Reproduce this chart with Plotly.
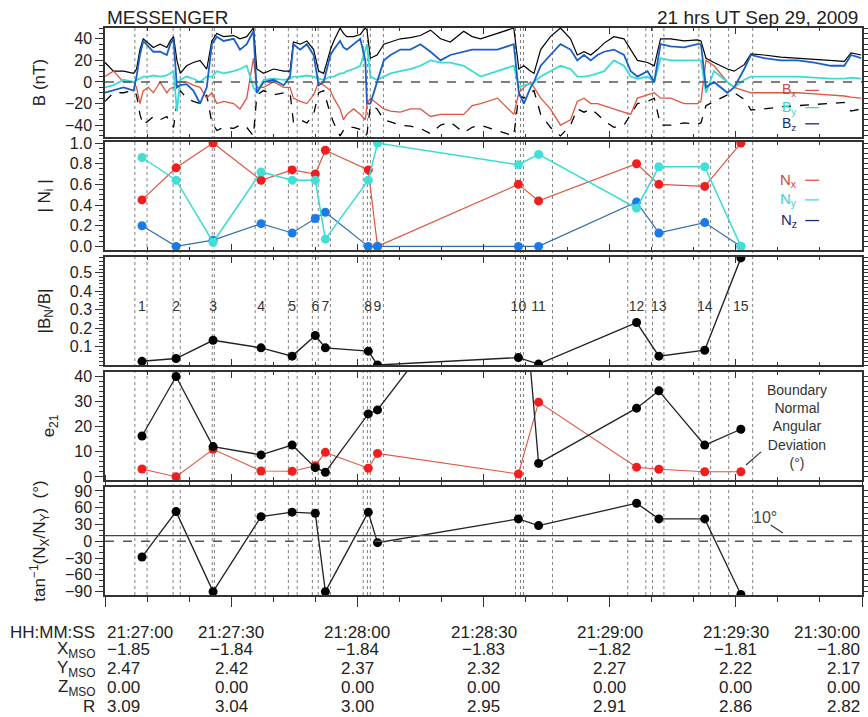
import plotly.graph_objects as go

# ---------------- data ----------------
# magnetic field time series (seconds after 21:27:00 UT), nT
t_b = [0.0, 2.0, 4.4, 6.8, 7.5, 8.3, 9.1, 10.3, 11.5, 13.1, 14.7, 15.5, 16.3, 17.1, 17.9, 19.4, 21.0,
       22.6, 24.2, 25.4, 26.6, 28.2, 30.6, 32.1, 33.7, 35.3, 36.1, 37.7, 40.1, 42.5, 44.0, 44.8, 46.4,
       48.0, 49.6, 50.8, 52.0, 53.6, 54.4, 55.9, 56.7, 57.5, 59.1, 60.7, 61.9, 62.3, 63.1, 64.7, 66.3,
       67.9, 70.2, 72.6, 75.0, 77.4, 79.8, 82.1, 85.3, 87.3, 89.3, 93.3, 97.2, 98.4, 99.6, 101.2, 102.0,
       103.6, 105.9, 108.3, 110.7, 112.3, 113.9, 115.5, 117.1, 118.7, 121.0, 123.4, 125.0, 126.6, 129.0,
       130.6, 132.1, 134.5, 137.7, 140.9, 141.7, 142.9, 144.8, 146.4, 148.0, 149.6, 152.0, 153.6, 156.7,
       160.7, 164.7, 168.7, 172.6, 175.8, 177.4, 179.8]
bx = [5, 10, 0, 0, -5, -20, -8, -5, -10, 0, -10, -6, -5, 0, 0, 0, -3,
      -5, -15, -10, -20, -18, -20, -25, -15, 22, -5, -5, 0, -5, -5, -15, -18,
      -20, -12, 0, -3, -8, -15, -25, -35, -30, -25, -30, -35, -20, -15, -20, -25,
      -27, -28, -25, -25, -32, -30, -30, -30, -22, -20, -15, -30, -10, -5, 0, -5,
      -15, -25, -40, -35, -18, -15, -20, -20, -22, -25, -28, -30, -15, -12,
      -10, -15, -15, -20, -20, -18, 20, 15, 8, 0, -5, -8, -10, -10,
      -10, -10, -11, -12, -13, -14, -15]
by = [-5, -3, 2, 0, 2, 3, 5, 5, 6, 5, 6, 8, 10, -27, 2, 5, 3,
      0, 5, 5, 10, 8, 10, 12, 15, -5, -10, 2, 3, 2, 3, 5, 5,
      6, 5, 3, 2, 5, 5, 8, 8, 10, 12, 15, 30, 35, 5, 2, 5,
      8, 10, 12, 15, 20, 18, 18, 15, 10, 5, 10, 15, -5, -3, -2, 0,
      5, 10, 15, 12, 5, 5, 6, 8, 10, 20, 15, 5, 3, 5,
      0, 22, 20, 20, 20, 20, -10, 10, 5, 0, -5, 2, 5, 5,
      5, 5, 4, 3, 3, 4, 3]
bz = [-10, -8, -5, -8, 5, 25, 38, 33, 28, 28, 25, 35, 40, -5, -3, -2, -8,
      -20, -5, 35, 42, 38, 40, 30, 35, 47, -10, 0, 2, -3, 5, 35, 30,
      35, 25, -3, 0, 25, 30, 38, 32, 30, 35, 40, 20, -20, -20, 0, 20,
      25, 30, 30, 35, 28, 20, 25, 28, 30, 30, 30, 35, -10, -20, -5, 0,
      15, 25, 35, 30, 20, 25, 20, 25, 28, 30, 25, 10, 5, 10,
      0, 35, 33, 32, 35, 35, -5, 0, -5, -10, -5, 12, 25, 22,
      20, 20, 18, 15, 15, 25, 22]
bt = [18, 10, 10, 8, 12, 30, 40, 36, 32, 35, 32, 38, 42, 20, 8, 15, 18,
      20, 12, 38, 45, 42, 43, 40, 42, 50, 12, 8, 12, 10, 10, 37, 35,
      38, 30, 10, 8, 30, 38, 50, 45, 42, 42, 44, 50, 48, 22, 25, 35,
      37, 40, 41, 43, 48, 40, 37, 47, 42, 40, 45, 50, 12, 15, 10, 8,
      30, 42, 50, 40, 25, 28, 25, 30, 36, 42, 40, 30, 20, 18,
      15, 40, 40, 38, 39, 38, 22, 18, 15, 12, 10, 16, 26, 25,
      23, 22, 21, 20, 19, 27, 25]

# boundary crossings
event_t = [8.8, 16.9, 25.7, 37.1, 44.5, 50.0, 52.4, 62.6, 64.8, 98.3, 103.1, 126.4, 131.7, 142.6, 151.2]
event_lbl = ["1", "2", "3", "4", "5", "6", "7", "8", "9", "10", "11", "12", "13", "14", "15"]
nx_abs = [0.45, 0.76, 1.0, 0.64, 0.74, 0.70, 0.93, 0.74, 0.0, 0.60, 0.44, 0.80, 0.60, 0.58, 1.0]
ny_abs = [0.86, 0.64, 0.04, 0.72, 0.64, 0.64, 0.07, 0.64, 1.0, 0.79, 0.89, 0.37, 0.77, 0.77, 0.0]
nz_abs = [0.20, 0.0, 0.06, 0.22, 0.13, 0.27, 0.33, 0.0, 0.0, 0.0, 0.0, 0.43, 0.13, 0.23, 0.0]
bn_ratio = [0.02, 0.035, 0.134, 0.093, 0.048, 0.16, 0.093, 0.075, 0.0, 0.04, 0.005, 0.23, 0.048, 0.08, 0.58]
e21 = [16.3, 40.0, 12.1, 8.8, 12.7, 3.7, 1.9, 25.1, 26.7, 100.0, 5.4, 27.4, 34.3, 12.7, 19.0]
ang_dev = [3.2, 0.1, 11.0, 2.4, 2.3, 4.5, 9.8, 3.5, 9.4, 1.2, 29.8, 3.9, 3.1, 2.1, 2.1]
tan_angle = [-28, 53, -90, 44, 52, 50, -90, 52, -2.5, 40, 28, 68, 40, 40, -95]

bounds = [7.1, 10.0, 16.2, 17.9, 25.5, 26.0, 35.7, 38.1, 43.6, 45.7, 49.3, 50.7, 53.6, 61.4, 62.4,
          63.1, 66.2, 97.6, 98.8, 99.5, 106.4, 124.3, 128.6, 130.2, 132.9, 141.2, 144.0, 148.3, 154.0]

# bottom table
tick_s = [0, 30, 60, 90, 120, 150, 180]
hhmmss = ["21:27:00", "21:27:30", "21:28:00", "21:28:30", "21:29:00", "21:29:30", "21:30:00"]
x_mso = ["−1.85", "−1.84", "−1.84", "−1.83", "−1.82", "−1.81", "−1.80"]
y_mso = ["2.47", "2.42", "2.37", "2.32", "2.27", "2.22", "2.17"]
z_mso = ["0.00", "0.00", "0.00", "0.00", "0.00", "0.00", "0.00"]
r_mso = ["3.09", "3.04", "3.00", "2.95", "2.91", "2.86", "2.82"]

# ---------------- styling ----------------
FONT = "Liberation Sans, Arial, sans-serif"
RED_L = "#e0553f"
RED_M = "#f01e1e"
CYAN_L = "#38dcd4"
CYAN_M = "#40e0d8"
BLUE_L = "#1a5fc8"
NZ_L = "#2f6fa8"
NZ_M = "#1c7ae8"
NAVY = "#1a2a78"
FRAME = "#333333"

fig = go.Figure()

# Panel 1: B field
fig.add_trace(go.Scatter(x=t_b, y=[-v for v in bt], mode="lines", line=dict(color="black", width=1.3, dash="dash"), xaxis="x", yaxis="y"))
fig.add_trace(go.Scatter(x=t_b, y=bt, mode="lines", line=dict(color="black", width=1.2), xaxis="x", yaxis="y"))
fig.add_trace(go.Scatter(x=t_b, y=bx, mode="lines", line=dict(color=RED_L, width=1.3), xaxis="x", yaxis="y"))
fig.add_trace(go.Scatter(x=t_b, y=by, mode="lines", line=dict(color=CYAN_L, width=1.8), xaxis="x", yaxis="y"))
fig.add_trace(go.Scatter(x=t_b, y=bz, mode="lines", line=dict(color=BLUE_L, width=1.8), xaxis="x", yaxis="y"))

# Panel 2: |Ni|
fig.add_trace(go.Scatter(x=event_t, y=nx_abs, mode="lines+markers", line=dict(color=RED_L, width=1.2),
                         marker=dict(color=RED_M, size=9), xaxis="x2", yaxis="y2"))
fig.add_trace(go.Scatter(x=event_t, y=nz_abs, mode="lines+markers", line=dict(color=NZ_L, width=1.2),
                         marker=dict(color=NZ_M, size=9), xaxis="x2", yaxis="y2"))
fig.add_trace(go.Scatter(x=event_t, y=ny_abs, mode="lines+markers", line=dict(color=CYAN_L, width=1.5),
                         marker=dict(color=CYAN_M, size=9), xaxis="x2", yaxis="y2"))

# Panel 3: |BN/B|
fig.add_trace(go.Scatter(x=event_t, y=bn_ratio, mode="lines+markers", line=dict(color="#222", width=1.4),
                         marker=dict(color="black", size=9), xaxis="x3", yaxis="y3"))
fig.add_trace(go.Scatter(x=event_t, y=[0.31] * len(event_t), mode="text", text=event_lbl,
                         textfont=dict(family=FONT, size=14, color="#333"), xaxis="x3", yaxis="y3"))

# Panel 4: e21 and angular deviation
fig.add_trace(go.Scatter(x=event_t, y=ang_dev, mode="lines+markers", line=dict(color=RED_L, width=1.1),
                         marker=dict(color=RED_M, size=9), xaxis="x4", yaxis="y4"))
fig.add_trace(go.Scatter(x=event_t, y=e21, mode="lines+markers", line=dict(color="#222", width=1.3),
                         marker=dict(color="black", size=9), xaxis="x4", yaxis="y4"))

# Panel 5: tan^-1(Nx/Ny)
fig.add_trace(go.Scatter(x=event_t, y=tan_angle, mode="lines+markers", line=dict(color="#222", width=1.3),
                         marker=dict(color="black", size=9), xaxis="x5", yaxis="y5"))

shapes = []
for b in bounds:
    shapes.append(dict(type="line", xref="x", yref="paper", x0=b, x1=b, y0=0, y1=1,
                       line=dict(color="#808080", width=1, dash="dot"), layer="below"))
# zero lines
shapes.append(dict(type="line", xref="paper", yref="y", x0=0, x1=1, y0=0, y1=0,
                   line=dict(color="#555", width=1.6, dash="dash")))
shapes.append(dict(type="line", xref="paper", yref="y5", x0=0, x1=1, y0=0, y1=0,
                   line=dict(color="#555", width=1.6, dash="dash")))
shapes.append(dict(type="line", xref="paper", yref="y5", x0=0, x1=1, y0=10, y1=10,
                   line=dict(color="#444", width=1.2)))
# legend segments
for yy, col in [(-7.8, RED_L), (-23.8, CYAN_L), (-38.8, NAVY)]:
    shapes.append(dict(type="line", xref="x", yref="y", x0=166.5, x1=169.8, y0=yy, y1=yy, line=dict(color=col, width=1.3)))
for yy, col in [(0.64, RED_L), (0.45, CYAN_L), (0.25, NAVY)]:
    shapes.append(dict(type="line", xref="x2", yref="y2", x0=166.5, x1=169.8, y0=yy, y1=yy, line=dict(color=col, width=1.3)))
# leader lines
shapes.append(dict(type="line", xref="x4", yref="y4", x0=156.0, y0=10.0, x1=152.4, y1=4.8, line=dict(color="#333", width=1.2)))
shapes.append(dict(type="line", xref="x5", yref="y5", x0=158.3, y0=29, x1=161.2, y1=15, line=dict(color="#333", width=1.2)))

ann = []
ann.append(dict(text="MESSENGER", xref="paper", yref="paper", x=0, y=1.018, xanchor="left", yanchor="middle",
                showarrow=False, font=dict(family=FONT, size=19, color="#222")))
ann.append(dict(text="21 hrs UT Sep 29, 2009", xref="paper", yref="paper", x=0.997, y=1.018, xanchor="right",
                yanchor="middle", showarrow=False, font=dict(family=FONT, size=19, color="#222")))
for txt, yy, col in [("B<sub>x</sub>", -7.8, "#c84a40"), ("B<sub>y</sub>", -23.8, "#40d0d0"), ("B<sub>z</sub>", -38.8, NAVY)]:
    ann.append(dict(text=txt, xref="x", yref="y", x=162.6, y=yy, showarrow=False,
                    font=dict(family=FONT, size=14, color=col)))
for txt, yy, col in [("N<sub>x</sub>", 0.64, "#c84a40"), ("N<sub>y</sub>", 0.45, "#40d0d0"), ("N<sub>z</sub>", 0.25, NAVY)]:
    ann.append(dict(text=txt, xref="x2", yref="y2", x=162.6, y=yy, showarrow=False,
                    font=dict(family=FONT, size=15, color=col)))
ann.append(dict(text="Boundary<br>Normal<br>Angular<br>Deviation<br>(°)", xref="x4", yref="y4", x=164.5, y=20,
                showarrow=False, align="center", font=dict(family=FONT, size=14, color="#333")))
ann.append(dict(text="10°", xref="x5", yref="y5", x=157, y=42, showarrow=False,
                font=dict(family=FONT, size=16, color="#444")))

row_y = [-0.0653, -0.097, -0.1305, -0.164, -0.1975]
row_lbl = ["HH:MM:SS", "X<sub>MSO</sub>", "Y<sub>MSO</sub>", "Z<sub>MSO</sub>", "R"]
rows = [hhmmss, x_mso, y_mso, z_mso, r_mso]
for lbl, yy in zip(row_lbl, row_y):
    ann.append(dict(text=lbl, xref="paper", yref="paper", x=-0.011, y=yy, xanchor="right", yanchor="middle",
                    showarrow=False, font=dict(family=FONT, size=17, color="#222")))
for vals, yy in zip(rows, row_y):
    for i, (ts, v) in enumerate(zip(tick_s, vals)):
        xa = "left" if i == 0 else ("right" if i == len(tick_s) - 1 else "center")
        ann.append(dict(text=v, xref="x5", yref="paper", x=ts, y=yy, xanchor=xa, yanchor="middle",
                        showarrow=False, font=dict(family=FONT, size=17, color="#222")))

H = 567.0
def dom(top_px, bot_px):
    return [(595 - bot_px) / H, (595 - top_px) / H]

xcommon = dict(range=[0, 180], showticklabels=False, showgrid=False, zeroline=False, showline=True,
               linecolor=FRAME, linewidth=1.5, mirror="ticks", ticks="inside", ticklen=6, dtick=30,
               tickcolor=FRAME, automargin=False,
               minor=dict(dtick=10, ticklen=3, ticks="inside", tickcolor=FRAME))
ycommon = dict(showgrid=False, zeroline=False, showline=True, linecolor=FRAME, linewidth=1.5, mirror="ticks",
               ticks="outside", ticklen=8, tickcolor=FRAME, automargin=False,
               tickfont=dict(family=FONT, size=16, color="#222"),
               title_font=dict(family=FONT, size=17, color="#222"))

layout = dict(
    width=868, height=717, margin=dict(l=105, r=6, t=28, b=122, autoexpand=False),
    paper_bgcolor="white", plot_bgcolor="white", showlegend=False,
    shapes=shapes, annotations=ann, font=dict(family=FONT),
)
anchors = ["y", "y2", "y3", "y4", "y5"]
for i, a in enumerate(anchors):
    key = "xaxis" if i == 0 else "xaxis%d" % (i + 1)
    d = dict(xcommon, anchor=a)
    if i > 0:
        d["matches"] = "x"
    if i == 4:
        d.update(ticks="outside", ticklen=10, minor=dict(dtick=10, ticklen=5, ticks="outside", tickcolor=FRAME))
    layout[key] = d

layout["yaxis"] = dict(ycommon, domain=dom(28, 137), anchor="x", range=[-51, 50], tickvals=[-40, -20, 0, 20, 40],
                       minor=dict(dtick=5, ticklen=4, ticks="outside", tickcolor=FRAME), title_text="B (nT)")
layout["yaxis2"] = dict(ycommon, domain=dom(142, 250), anchor="x2", range=[-0.035, 1.01],
                        tickvals=[0, 0.2, 0.4, 0.6, 0.8, 1.0], tickformat=".1f",
                        minor=dict(dtick=0.05, ticklen=4, ticks="outside", tickcolor=FRAME), title_text="| N<sub>i</sub> |")
layout["yaxis3"] = dict(ycommon, domain=dom(257, 365), anchor="x3", range=[0, 0.585],
                        tickvals=[0.1, 0.2, 0.3, 0.4, 0.5], tickformat=".1f",
                        minor=dict(dtick=0.02, ticklen=4, ticks="outside", tickcolor=FRAME), title_text="|B<sub>N</sub>/B|")
layout["yaxis4"] = dict(ycommon, domain=dom(372, 480), anchor="x4", range=[-1.2, 41.8],
                        tickvals=[0, 10, 20, 30, 40],
                        minor=dict(dtick=2, ticklen=4, ticks="outside", tickcolor=FRAME), title_text="e<sub>21</sub>")
layout["yaxis5"] = dict(ycommon, domain=dom(487, 595), anchor="x5", range=[-96, 97],
                        tickvals=[-90, -60, -30, 0, 30, 60, 90],
                        minor=dict(dtick=10, ticklen=4, ticks="outside", tickcolor=FRAME),
                        title_text="tan<sup>−1</sup>(N<sub>X</sub>/N<sub>Y</sub>)  (°)")

fig.update_layout(**layout)
fig.write_html("out.html", config={"displayModeBar": False},
               post_script="document.body.style.margin='0';document.body.style.overflow='hidden';")
